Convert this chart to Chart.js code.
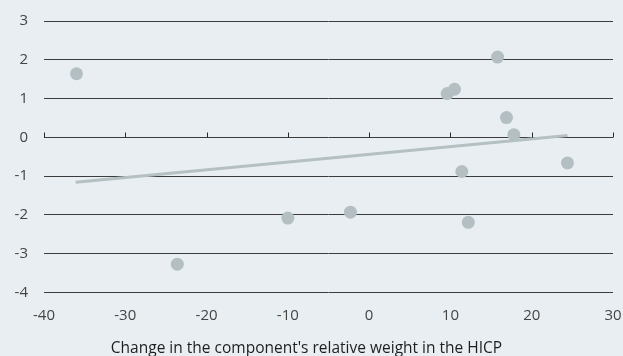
<!DOCTYPE html>
<html>
<head>
<meta charset="utf-8">
<script src="https://cdn.jsdelivr.net/npm/chart.js@4"></script>
<style>
  html, body { margin: 0; padding: 0; background: #e9eef2; overflow: hidden; }
  #wrap { width: 623px; height: 356px; position: relative; }
</style>
</head>
<body>
<div id="wrap"><canvas id="chart"></canvas></div>
<script>
// data
const weightChange = [-36.0, -23.6, -10.0, -2.3, 9.6, 10.5, 15.8, 16.9, 17.8, 24.4, 11.4, 12.2];
const priceEffect  = [1.64, -3.27, -2.08, -1.93, 1.13, 1.24, 2.07, 0.51, 0.07, -0.66, -0.88, -2.19];
const trendX = [-36.1, 24.4];
const trendY = [-1.16, 0.05];
const xTicks = [-40, -30, -20, -10, 0, 10, 20, 30];
const yTicks = [-4, -3, -2, -1, 0, 1, 2, 3];
const xTitle = "Change in the component's relative weight in the HICP";

const FONT = "'Open Sans', sans-serif";
const TEXT = '#444';

// small upward ticks on the zero line
const zeroTicks = {
  id: 'zeroTicks',
  afterDatasetsDraw(chart) {
    const { ctx, scales: { x, y } } = chart;
    const y0 = Math.round(y.getPixelForValue(0)) + 0.5;
    ctx.save();
    ctx.strokeStyle = '#2a2a2a';
    ctx.lineWidth = 1;
    xTicks.forEach(v => {
      const px = Math.round(x.getPixelForValue(v)) + 0.5;
      ctx.beginPath();
      ctx.moveTo(px, y0);
      ctx.lineTo(px, y0 - 5);
      ctx.stroke();
    });
    ctx.restore();
  }
};

new Chart(document.getElementById('chart'), {
  type: 'scatter',
  data: {
    datasets: [
      {
        type: 'line',
        data: trendX.map((v, i) => ({ x: v, y: trendY[i] })),
        borderColor: '#b4c0c1',
        borderWidth: 3,
        pointRadius: 0,
        fill: false,
        order: 2
      },
      {
        data: weightChange.map((v, i) => ({ x: v, y: priceEffect[i] })),
        backgroundColor: '#b4bfc4',
        borderWidth: 0,
        pointRadius: 6.5,
        order: 1
      }
    ]
  },
  options: {
    responsive: true,
    maintainAspectRatio: false,
    animation: false,
    layout: { padding: { top: 21, right: 10, left: 0, bottom: 0 } },
    plugins: {
      legend: { display: false },
      tooltip: { enabled: false },
      // axis title centred on the whole canvas, as in the original
      title: {
        display: true, position: 'bottom', fullSize: true, text: xTitle,
        color: '#1e1e1e', font: { family: FONT, size: 15.5, weight: 'normal', lineHeight: 1 },
        padding: { top: 12, bottom: 0 }
      }
    },
    scales: {
      x: {
        type: 'linear',
        min: -40, max: 30,
        afterBuildTicks: s => { s.ticks = xTicks.map(v => ({ value: v })); },
        afterFit: s => { s.height = 36; s.paddingLeft = 0; s.paddingRight = 0; },
        grid: { display: false, drawTicks: false },
        border: { display: false },
        ticks: { color: TEXT, font: { family: FONT, size: 15 }, padding: 14, maxRotation: 0 }
      },
      y: {
        min: -4, max: 3,
        afterBuildTicks: s => { s.ticks = yTicks.map(v => ({ value: v })); },
        afterFit: s => { s.width = 44; s.paddingTop = 0; s.paddingBottom = 0; },
        grid: { color: '#3c3c3c', lineWidth: 1, drawTicks: false },
        border: { display: false },
        ticks: { color: TEXT, font: { family: FONT, size: 15 }, padding: 16 }
      }
    }
  },
  plugins: [zeroTicks]
});
</script>
</body>
</html>
